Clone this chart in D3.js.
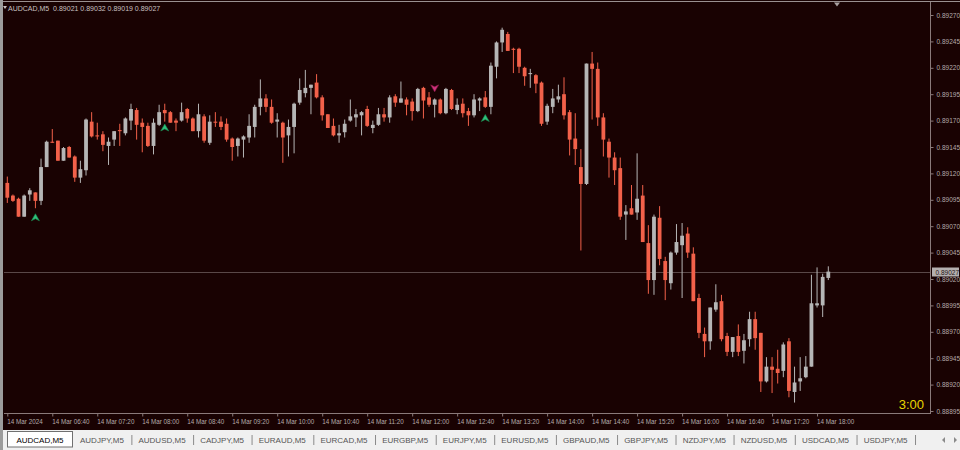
<!DOCTYPE html>
<html>
<head>
    <meta charset='utf-8'>
    <title>AUDCAD,M5</title>
    <style>
        body { margin: 0; background: #f0f0f0; }
        svg { display: block; }
    </style>
</head>
<body>
<svg width="960" height="450"></svg>
<script src="https://d3js.org/d3.v7.min.js"></script>
<script>
    const symbol = "AUDCAD,M5"
    const firstBar = "2024-03-14 06:00"
    const barMinutes = 5

    const opens = [
        0.89111, 0.89099, 0.89096, 0.89079, 0.89100, 0.89102, 0.89094, 0.89126, 0.89150, 0.89151,
        0.89132, 0.89145, 0.89136, 0.89116, 0.89123, 0.89169, 0.89156, 0.89157, 0.89146, 0.89152,
        0.89161, 0.89158, 0.89170, 0.89180, 0.89168, 0.89165, 0.89146, 0.89166, 0.89180, 0.89178,
        0.89170, 0.89170, 0.89181, 0.89172, 0.89160, 0.89174, 0.89149, 0.89169, 0.89169, 0.89167,
        0.89153, 0.89146, 0.89152, 0.89154, 0.89164, 0.89183, 0.89191, 0.89183, 0.89169, 0.89168,
        0.89156, 0.89164, 0.89187, 0.89196, 0.89201, 0.89206, 0.89192, 0.89176, 0.89165, 0.89156,
        0.89159, 0.89170, 0.89173, 0.89175, 0.89181, 0.89163, 0.89166, 0.89176, 0.89173, 0.89193,
        0.89187, 0.89190, 0.89188, 0.89179, 0.89201, 0.89192, 0.89185, 0.89190, 0.89177, 0.89199,
        0.89180, 0.89186, 0.89179, 0.89175, 0.89189, 0.89192, 0.89183, 0.89221, 0.89244, 0.89252,
        0.89238, 0.89238, 0.89220, 0.89214, 0.89213, 0.89206, 0.89169, 0.89183, 0.89190, 0.89195,
        0.89178, 0.89153, 0.89126, 0.89110, 0.89224, 0.89219, 0.89173, 0.89150, 0.89135, 0.89125,
        0.89081, 0.89087, 0.89083, 0.89099, 0.89054, 0.89019, 0.89078, 0.89037, 0.89016, 0.89045,
        0.89052, 0.89063, 0.89044, 0.89002, 0.88968, 0.88961, 0.88991, 0.88999, 0.88966, 0.88951,
        0.88966, 0.88952, 0.88963, 0.88982, 0.88969, 0.88923, 0.88937, 0.88935, 0.88933, 0.88961,
        0.88913, 0.88923, 0.88927, 0.88937, 0.88995, 0.88995, 0.89021
    ]
    const highs = [
        0.89117, 0.89100, 0.89097, 0.89100, 0.89106, 0.89102, 0.89134, 0.89151, 0.89162, 0.89151,
        0.89145, 0.89146, 0.89137, 0.89132, 0.89172, 0.89178, 0.89168, 0.89160, 0.89154, 0.89160,
        0.89167, 0.89173, 0.89186, 0.89182, 0.89172, 0.89168, 0.89172, 0.89185, 0.89186, 0.89179,
        0.89172, 0.89187, 0.89182, 0.89173, 0.89186, 0.89176, 0.89175, 0.89178, 0.89174, 0.89172,
        0.89154, 0.89154, 0.89156, 0.89176, 0.89185, 0.89209, 0.89195, 0.89190, 0.89177, 0.89169,
        0.89171, 0.89187, 0.89210, 0.89218, 0.89204, 0.89214, 0.89194, 0.89176, 0.89172, 0.89166,
        0.89171, 0.89190, 0.89181, 0.89179, 0.89184, 0.89170, 0.89182, 0.89182, 0.89194, 0.89195,
        0.89207, 0.89192, 0.89191, 0.89201, 0.89202, 0.89197, 0.89191, 0.89191, 0.89201, 0.89200,
        0.89191, 0.89191, 0.89182, 0.89195, 0.89192, 0.89198, 0.89225, 0.89245, 0.89258, 0.89254,
        0.89239, 0.89239, 0.89221, 0.89219, 0.89214, 0.89207, 0.89186, 0.89200, 0.89204, 0.89211,
        0.89180, 0.89177, 0.89143, 0.89224, 0.89235, 0.89225, 0.89177, 0.89153, 0.89140, 0.89135,
        0.89090, 0.89109, 0.89139, 0.89109, 0.89071, 0.89081, 0.89089, 0.89041, 0.89046, 0.89072,
        0.89073, 0.89069, 0.89050, 0.89006, 0.88974, 0.88993, 0.89015, 0.89005, 0.88969, 0.88965,
        0.88977, 0.88968, 0.88989, 0.88989, 0.88969, 0.88946, 0.88946, 0.88953, 0.88960, 0.88964,
        0.88937, 0.88946, 0.88947, 0.89024, 0.89031, 0.89025, 0.89032
    ]
    const lows = [
        0.89092, 0.89093, 0.89079, 0.89079, 0.89094, 0.89087, 0.89090, 0.89126, 0.89149, 0.89132,
        0.89132, 0.89135, 0.89112, 0.89111, 0.89118, 0.89154, 0.89152, 0.89141, 0.89128, 0.89146,
        0.89146, 0.89156, 0.89161, 0.89152, 0.89140, 0.89145, 0.89138, 0.89165, 0.89169, 0.89168,
        0.89160, 0.89169, 0.89168, 0.89160, 0.89154, 0.89149, 0.89147, 0.89164, 0.89161, 0.89150,
        0.89132, 0.89136, 0.89135, 0.89149, 0.89154, 0.89175, 0.89178, 0.89167, 0.89154, 0.89130,
        0.89136, 0.89139, 0.89185, 0.89192, 0.89176, 0.89191, 0.89170, 0.89163, 0.89155, 0.89149,
        0.89154, 0.89169, 0.89164, 0.89156, 0.89164, 0.89158, 0.89165, 0.89169, 0.89168, 0.89183,
        0.89187, 0.89175, 0.89170, 0.89178, 0.89172, 0.89183, 0.89173, 0.89176, 0.89176, 0.89180,
        0.89176, 0.89173, 0.89165, 0.89173, 0.89179, 0.89182, 0.89176, 0.89210, 0.89235, 0.89236,
        0.89215, 0.89215, 0.89203, 0.89201, 0.89196, 0.89165, 0.89166, 0.89177, 0.89187, 0.89171,
        0.89137, 0.89128, 0.89047, 0.89109, 0.89171, 0.89165, 0.89136, 0.89116, 0.89109, 0.89076,
        0.89057, 0.89081, 0.89076, 0.89055, 0.89006, 0.89005, 0.89033, 0.89000, 0.89010, 0.89043,
        0.89002, 0.89040, 0.88999, 0.88964, 0.88946, 0.88953, 0.88989, 0.88961, 0.88947, 0.88946,
        0.88947, 0.88940, 0.88956, 0.88953, 0.88913, 0.88922, 0.88912, 0.88921, 0.88927, 0.88908,
        0.88903, 0.88914, 0.88926, 0.88937, 0.88993, 0.88984, 0.89019
    ]
    const closes = [
        0.89097, 0.89094, 0.89079, 0.89099, 0.89104, 0.89094, 0.89126, 0.89150, 0.89149, 0.89132,
        0.89144, 0.89135, 0.89116, 0.89124, 0.89171, 0.89155, 0.89155, 0.89147, 0.89150, 0.89160,
        0.89160, 0.89172, 0.89181, 0.89166, 0.89164, 0.89146, 0.89168, 0.89178, 0.89177, 0.89168,
        0.89168, 0.89178, 0.89172, 0.89160, 0.89176, 0.89151, 0.89169, 0.89168, 0.89164, 0.89152,
        0.89145, 0.89153, 0.89155, 0.89165, 0.89183, 0.89191, 0.89183, 0.89168, 0.89171, 0.89154,
        0.89164, 0.89186, 0.89199, 0.89201, 0.89204, 0.89192, 0.89175, 0.89163, 0.89156, 0.89158,
        0.89167, 0.89174, 0.89176, 0.89178, 0.89165, 0.89166, 0.89176, 0.89173, 0.89192, 0.89187,
        0.89191, 0.89185, 0.89179, 0.89200, 0.89189, 0.89185, 0.89190, 0.89177, 0.89200, 0.89181,
        0.89185, 0.89177, 0.89175, 0.89190, 0.89191, 0.89183, 0.89222, 0.89244, 0.89256, 0.89236,
        0.89237, 0.89221, 0.89212, 0.89215, 0.89205, 0.89167, 0.89184, 0.89191, 0.89193, 0.89175,
        0.89152, 0.89143, 0.89110, 0.89224, 0.89219, 0.89173, 0.89152, 0.89135, 0.89123, 0.89079,
        0.89084, 0.89081, 0.89096, 0.89055, 0.89019, 0.89079, 0.89039, 0.89019, 0.89045, 0.89055,
        0.89061, 0.89045, 0.88999, 0.88969, 0.88961, 0.88993, 0.88998, 0.88963, 0.88951, 0.88965,
        0.88951, 0.88962, 0.88982, 0.88964, 0.88923, 0.88937, 0.88934, 0.88931, 0.88958, 0.88914,
        0.88922, 0.88926, 0.88937, 0.88997, 0.88997, 0.89022, 0.89027
    ]

    // arrow signals: bar index and price where the arrow sits
    const buySignals = [{bar: 5, price: 0.89078}, {bar: 28, price: 0.89163}, {bar: 85, price: 0.89172}]
    const sellSignals = [{bar: 76, price: 0.89201}]

    const priceTicks = [0.88895, 0.88920, 0.88945, 0.88970, 0.88995, 0.89020, 0.89045, 0.89070,
        0.89095, 0.89120, 0.89145, 0.89170, 0.89195, 0.89220, 0.89245, 0.89270]
    const timeTicks = ["2024-03-14 06:00", "2024-03-14 06:40", "2024-03-14 07:20", "2024-03-14 08:00",
        "2024-03-14 08:40", "2024-03-14 09:20", "2024-03-14 10:00", "2024-03-14 10:40", "2024-03-14 11:20",
        "2024-03-14 12:00", "2024-03-14 12:40", "2024-03-14 13:20", "2024-03-14 14:00", "2024-03-14 14:40",
        "2024-03-14 15:20", "2024-03-14 16:00", "2024-03-14 16:40", "2024-03-14 17:20", "2024-03-14 18:00"]
    const tabs = ["AUDCAD,M5", "AUDJPY,M5", "AUDUSD,M5", "CADJPY,M5", "EURAUD,M5", "EURCAD,M5", "EURGBP,M5",
        "EURJPY,M5", "EURUSD,M5", "GBPAUD,M5", "GBPJPY,M5", "NZDJPY,M5", "NZDUSD,M5", "USDCAD,M5", "USDJPY,M5"]
    const timer = "3:00"

    const bg = "#190202"
    const bullColor = "#b6b6b6"
    const bearColor = "#f2614a"
    const axisText = "#b4aaaa"
    const fontFamily = "'Liberation Sans', Arial, sans-serif"

    const parseTime = d3.timeParse("%Y-%m-%d %H:%M")
    const start = parseTime(firstBar)
    const bars = opens.map((o, i) => ({
        time: d3.timeMinute.offset(start, barMinutes * i),
        open: o, high: highs[i], low: lows[i], close: closes[i]
    }))
    const last = bars[bars.length - 1]

    const chartLeft = 4, chartRight = 930, chartTop = 2, chartBottom = 413

    const x = d3.scaleTime()
        .domain([bars[0].time, last.time])
        .range([7.3, 828.3])

    const y = d3.scaleLinear()
        .domain([0.88895, 0.89270])
        .range([411, 15])

    const svg = d3.select("svg")

    // window + chart background
    svg.append("rect").attr("x", 0).attr("y", 0).attr("width", 960).attr("height", 430).attr("fill", bg)
    svg.append("rect").attr("x", 0).attr("y", 0).attr("width", 3).attr("height", 430).attr("fill", "#9c9c9c")
    svg.append("line").attr("x1", 3).attr("x2", 960).attr("y1", 1.5).attr("y2", 1.5)
        .attr("stroke", "#9a9090")

    // frame lines
    svg.append("line").attr("x1", chartRight + 0.5).attr("x2", chartRight + 0.5)
        .attr("y1", chartTop).attr("y2", chartBottom + 1).attr("stroke", "#8a7a7a")
    svg.append("line").attr("x1", chartLeft).attr("x2", chartRight + 1)
        .attr("y1", chartBottom + 0.5).attr("y2", chartBottom + 0.5).attr("stroke", "#8a7a7a")

    // current bid line
    svg.append("line")
        .attr("x1", chartLeft).attr("x2", chartRight)
        .attr("y1", Math.round(y(last.close)) + 0.5).attr("y2", Math.round(y(last.close)) + 0.5)
        .attr("stroke", "#5a4848")

    // candles
    const candles = svg.append("g")
        .selectAll("g")
        .data(bars)
        .join("g")
        .attr("fill", d => d.close >= d.open ? bullColor : bearColor)
        .attr("stroke", d => d.close >= d.open ? bullColor : bearColor)

    candles.append("line")
        .attr("x1", d => x(d.time)).attr("x2", d => x(d.time))
        .attr("y1", d => y(d.high)).attr("y2", d => y(d.low))
        .attr("stroke-width", 1)

    candles.append("rect")
        .attr("stroke", "none")
        .attr("x", d => x(d.time) - 1.9)
        .attr("width", 3.8)
        .attr("y", d => y(Math.max(d.open, d.close)))
        .attr("height", d => Math.max(1, Math.abs(y(d.open) - y(d.close))))

    // signal arrows
    svg.append("g")
        .selectAll("path")
        .data(buySignals)
        .join("path")
        .attr("transform", d => `translate(${x(bars[d.bar].time)},${y(d.price)})`)
        .attr("d", "M0,-4 L4,3 L0,1 L-4,3 Z")
        .attr("fill", "#2fc07a")
        .attr("stroke", "#178a50")
        .attr("stroke-width", 0.6)

    svg.append("g")
        .selectAll("path")
        .data(sellSignals)
        .join("path")
        .attr("transform", d => `translate(${x(bars[d.bar].time)},${y(d.price)})`)
        .attr("d", "M0,4 L4,-3 L0,-1 L-4,-3 Z")
        .attr("fill", "#d0327c")
        .attr("stroke", "#8a1a4a")
        .attr("stroke-width", 0.6)

    // shift marker at the top
    svg.append("path")
        .attr("d", "M834,2.5 L840,2.5 L837,6.5 Z")
        .attr("fill", "#a8a0a0")

    // price axis
    const yAxis = svg.append("g")
        .attr("transform", `translate(${chartRight + 0.5},0)`)
        .call(d3.axisRight(y).tickValues(priceTicks).tickFormat(d3.format(".5f")).tickSize(3).tickPadding(3))
    yAxis.select(".domain").remove()
    yAxis.selectAll("line").attr("stroke", "#8a7a7a")
    yAxis.selectAll("text")
        .attr("fill", axisText)
        .attr("font-family", fontFamily)
        .attr("font-size", 6.5)

    // current price label
    const bidY = Math.round(y(last.close))
    svg.append("rect")
        .attr("x", 932).attr("y", bidY - 4.5)
        .attr("width", 27).attr("height", 9)
        .attr("fill", "#b4b0b0")
    svg.append("text")
        .attr("x", 935.5).attr("y", bidY + 2.5)
        .attr("fill", "#1e1212")
        .attr("font-family", fontFamily)
        .attr("font-size", 6.5)
        .text(d3.format(".5f")(last.close))

    // time axis
    const firstFormat = d3.timeFormat("%d %b %Y")
    const otherFormat = d3.timeFormat("%d %b %H:%M")
    const tickDates = timeTicks.map(parseTime)
    const xAxis = svg.append("g")
        .attr("transform", `translate(0,${chartBottom + 0.5})`)
        .call(d3.axisBottom(x).tickValues(tickDates)
            .tickFormat((d, i) => i === 0 ? firstFormat(d) : otherFormat(d))
            .tickSize(3).tickPadding(3))
    xAxis.select(".domain").remove()
    xAxis.selectAll("line").attr("stroke", "#8a7a7a")
    xAxis.selectAll("text")
        .attr("text-anchor", "start")
        .attr("dx", -0.5)
        .attr("fill", axisText)
        .attr("font-family", fontFamily)
        .attr("font-size", 6.3)

    // header
    svg.append("path").attr("d", "M3,6 L7,6 L5,9 Z").attr("fill", "#c8c0c0")
    svg.append("text")
        .attr("x", 8).attr("y", 10.5)
        .attr("fill", "#c8c0c0")
        .attr("font-family", fontFamily)
        .attr("font-size", 7)
        .attr("xml:space", "preserve")
        .text(`${symbol}  ${[last.open, last.high, last.low, last.close].map(d3.format(".5f")).join(" ")}`)

    // bar timer
    svg.append("text")
        .attr("x", 924).attr("y", 409)
        .attr("text-anchor", "end")
        .attr("fill", "#e8d400")
        .attr("font-family", fontFamily)
        .attr("font-size", 13)
        .text(timer)

    // tab strip
    const tabBar = svg.append("g")
    tabBar.append("rect").attr("x", 0).attr("y", 430).attr("width", 960).attr("height", 20).attr("fill", "#f0f0f0")
    tabBar.append("rect").attr("x", 0).attr("y", 430).attr("width", 3).attr("height", 20).attr("fill", "#9c9c9c")
    tabBar.append("rect")
        .attr("x", 7.5).attr("y", 431.5).attr("width", 65).attr("height", 15.5)
        .attr("fill", "#ffffff").attr("stroke", "#707070")

    let cursor = 80
    tabs.forEach((name, i) => {
        const t = tabBar.append("text")
            .attr("y", 443)
            .attr("font-family", fontFamily)
            .attr("font-size", 8)
            .text(name)
        if (i === 0) {
            t.attr("x", 40).attr("text-anchor", "middle").attr("fill", "#000")
            return
        }
        t.attr("x", cursor).attr("fill", "#555")
        const w = t.node().getComputedTextLength()
        const sep = cursor + w + 8
        tabBar.append("line")
            .attr("x1", sep).attr("x2", sep).attr("y1", 435).attr("y2", 445)
            .attr("stroke", "#8a8a8a")
        cursor = sep + 6.6
    })

    tabBar.append("path").attr("d", "M945,437 L942,440 L945,443 Z").attr("fill", "#8a8a8a")
    tabBar.append("path").attr("d", "M954,437 L957,440 L954,443 Z").attr("fill", "#8a8a8a")
</script>
</body>
</html>
